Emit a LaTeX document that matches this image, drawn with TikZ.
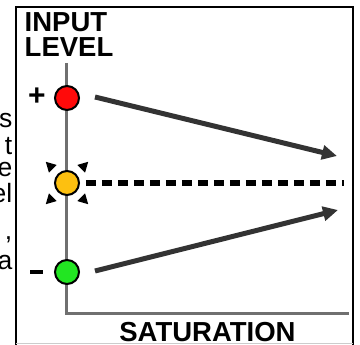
\documentclass[tikz,border=0pt]{standalone}
\usepackage{fontspec}
\setmainfont{Liberation Sans}
\usetikzlibrary{arrows.meta}
\definecolor{dotred}{HTML}{FF0A0A}
\definecolor{dotyellow}{HTML}{FDC010}
\definecolor{dotgreen}{HTML}{22E622}
\definecolor{axisgray}{HTML}{707070}
\definecolor{arrowgray}{HTML}{333333}
\tikzset{
  dot/.style={circle, draw=black, line width=2pt, minimum size=24pt, inner sep=0pt},
  axisline/.style={draw=axisgray, line width=3pt},
  trend/.style={draw=arrowgray, line width=5pt, -{Triangle[length=15pt,width=14pt]}},
  level/.style={draw=black, line width=6.5pt, dash pattern=on 10pt off 6pt},
  ray/.style={fill=black},
  title/.style={font=\bfseries\fontsize{27.5}{26}\selectfont, inner sep=0pt},
  sign/.style={font=\bfseries\fontsize{30}{30}\selectfont, inner sep=0pt},
  frag/.style={font=\fontsize{26.5}{26}\selectfont, inner sep=0pt, anchor=base east},
}
\begin{document}
\begin{tikzpicture}[x=1pt,y=-1pt]
\useasboundingbox (0,0) rectangle (360,345);
% frame
\draw[black, line width=2pt] (16,346) -- (16,7.5) -- (353,7.5) -- (353,346);
\draw[black!20, line width=0.8pt] (16,343.5) -- (353,343.5);
% cut text fragments
\node[frag] (f1) at (12.5,128) {s};
\node[frag] (f2) at (12.5,155) {t};
\node[frag] (f3) at (12.5,177) {e};
\node[frag] (f4) at (12.5,203) {el};
\node[frag] (f5) at (12.5,240) {,};
\node[frag] (f6) at (12.5,270) {a};
% labels
\node[title, anchor=base west] (inputlbl) at (24.5,32) {INPUT};
\node[title, anchor=base west] (levellbl) at (24.5,57) {LEVEL};
\node[title, anchor=base] (satlbl) at (207.5,342) {SATURATION};
% axes
\coordinate (ytop) at (67,63);
\coordinate (origin) at (67,314);
\coordinate (xend) at (349,314);
\draw[axisline] (ytop) -- (origin) -- (xend);
% dots
\node[dot, fill=dotred] (red) at (67,98) {};
\node[dot, fill=dotyellow] (yellow) at (67,183) {};
\node[dot, fill=dotgreen] (green) at (67,272) {};
\node[sign] (plus) at (37,97) {+};
\node[sign] (minus) at (37,272) {\rule[0pt]{13pt}{3.6pt}};
% rays around yellow
\foreach \a in {45,135,225,315}{
  \fill[ray, shift={(yellow.center)}, rotate=\a] (20,-5.5) -- (30,0) -- (20,5.5) -- cycle;
}
% connectors
\coordinate (rs) at (95,97);
\coordinate (re) at (337,156);
\coordinate (gs) at (95,271);
\coordinate (ge) at (338,210);
\coordinate (ds) at (86,183);
\coordinate (de) at (344,183);
\draw[trend] (rs) -- (re);
\draw[trend] (gs) -- (ge);
\draw[level] (ds) -- (de);
\end{tikzpicture}
\end{document}
